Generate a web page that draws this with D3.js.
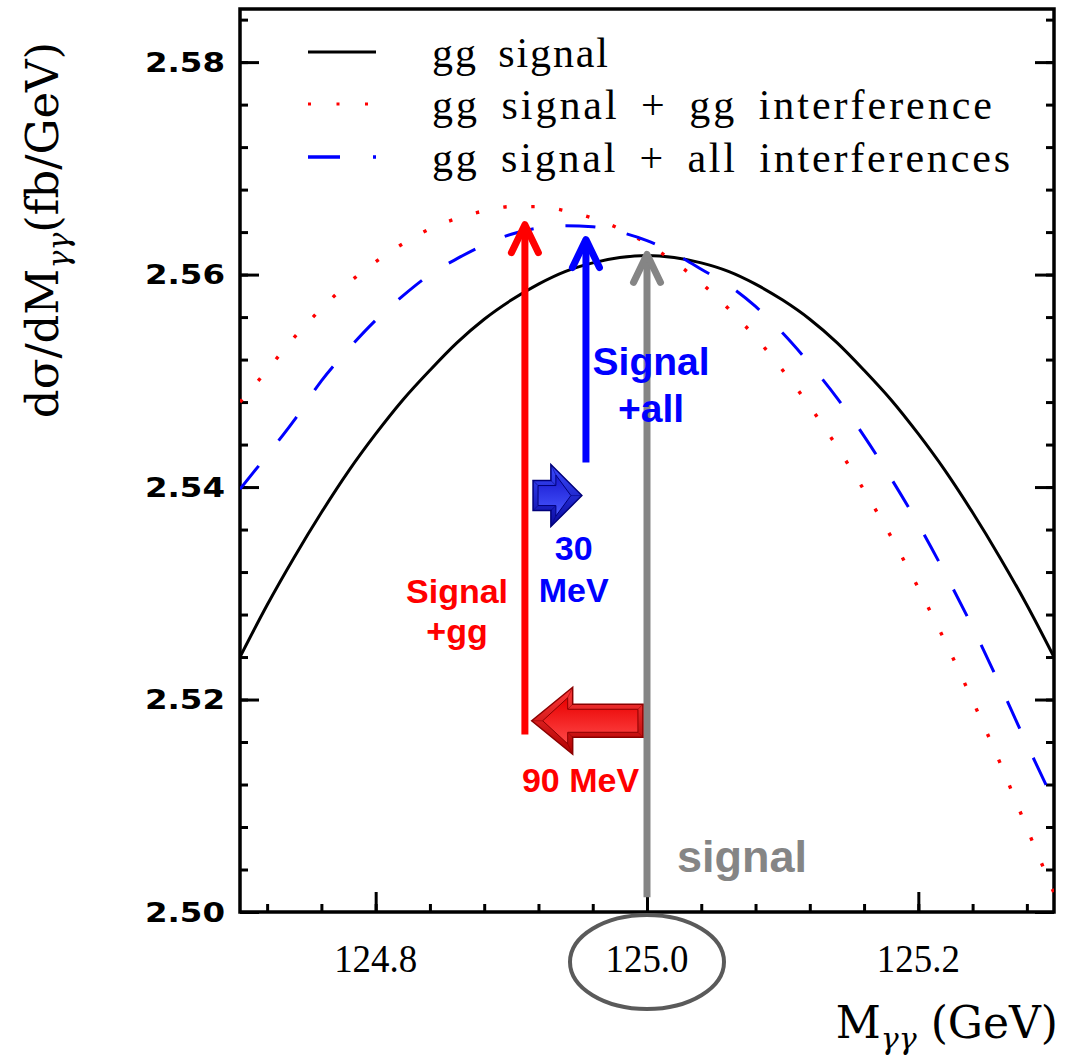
<!DOCTYPE html>
<html><head><meta charset="utf-8">
<script src="https://cdn.jsdelivr.net/npm/d3@7"></script>
<style>body{margin:0;background:#fff} svg{display:block}</style>
</head><body>
<svg id="c" width="1067" height="1055"></svg>
<script>
// ---- data ----
const mass = [124.70,124.72,124.74,124.76,124.78,124.80,124.82,124.84,124.86,124.88,124.90,124.92,124.94,124.96,124.98,125.00,
              125.02,125.04,125.06,125.08,125.10,125.12,125.14,125.16,125.18,125.20,125.22,125.24,125.26,125.28,125.30];
const ggSignal = [2.5240,2.5289,2.5334,2.5376,2.5415,2.5450,2.5482,2.5510,2.5536,2.5558,2.5576,2.5591,2.5603,2.5611,2.5616,2.5618,
                  2.5616,2.5611,2.5603,2.5591,2.5576,2.5558,2.5536,2.5510,2.5482,2.5450,2.5415,2.5376,2.5334,2.5289,2.5240];
const ggSignalGgInt = [2.5480,2.5510,2.5541,2.5568,2.5592,2.5612,2.5629,2.5643,2.5653,2.5660,2.5664,2.5664,2.5660,2.5653,2.5643,2.5629,
                       2.5612,2.5592,2.5568,2.5541,2.5510,2.5476,2.5438,2.5397,2.5353,2.5305,2.5254,2.5199,2.5141,2.5079,2.5018];
const ggSignalAllInt = [2.5398,2.5430,2.5463,2.5500,2.5530,2.5557,2.5580,2.5600,2.5615,2.5628,2.5638,2.5644,2.5646,2.5645,2.5640,2.5632,
                        2.5620,2.5605,2.5590,2.5570,2.5545,2.5516,2.5484,2.5448,2.5408,2.5365,2.5318,2.5268,2.5214,2.5158,2.5104];
const seriesNames = ["gg signal","gg signal + gg interference","gg signal + all interferences"];
const yTicks = [2.50,2.52,2.54,2.56,2.58];
const yTickLabels = ["2.50","2.52","2.54","2.56","2.58"];
const xTicks = [124.8,125.0,125.2];
const xTickLabels = ["124.8","125.0","125.2"];
// peak positions marked by arrows (GeV, value)
const peakSignal = {m:125.000, lo:2.5014, hi:2.5619};
const peakGg     = {m:124.910, lo:2.5167, hi:2.5647};
const peakAll    = {m:124.955, lo:2.5423, hi:2.5633};
const shiftGg  = {from:124.997, to:124.915, v:2.5180};
const shiftAll = {from:124.916, to:124.952, v:2.5392};

// ---- layout ----
const L=240, R=1054, T=9, B=912;
const x = d3.scaleLinear().domain([124.7,125.3]).range([L,R]);
const y = d3.scaleLinear().domain([2.5,2.585]).range([B,T]);
const svg = d3.select('#c');
const defs = svg.append('defs');
defs.append('clipPath').attr('id','clip').append('rect')
  .attr('x',L).attr('y',T).attr('width',R-L).attr('height',B-T);

function grad(id, c1, c2){
  const g = defs.append('linearGradient').attr('id',id).attr('x1',0).attr('y1',0).attr('x2',0).attr('y2',1);
  g.append('stop').attr('offset','0%').attr('stop-color',c1);
  g.append('stop').attr('offset','100%').attr('stop-color',c2);
}
grad('gRedO','#ff3a3a','#b00000');
grad('gRedI','#e80000','#ff4848');
grad('gBlueO','#3a4aff','#0a0aa0');
grad('gBlueI','#1818d0','#4858ff');

// ---- axes ----
const minorY = d3.range(2.5,2.5861,0.004);
const minorX = d3.range(124.72,125.2801,0.04);
function styleAxis(g){ g.select('.domain').remove(); g.selectAll('line').attr('stroke','#000').attr('stroke-width',3); g.selectAll('text').remove(); }
svg.append('g').attr('transform',`translate(${L},0)`).call(d3.axisRight(y).tickValues(minorY).tickSize(8)).call(styleAxis);
svg.append('g').attr('transform',`translate(${L},0)`).call(d3.axisRight(y).tickValues(yTicks).tickSize(19)).call(styleAxis);
svg.append('g').attr('transform',`translate(${R},0)`).call(d3.axisLeft(y).tickValues(minorY).tickSize(8)).call(styleAxis);
svg.append('g').attr('transform',`translate(${R},0)`).call(d3.axisLeft(y).tickValues(yTicks).tickSize(19)).call(styleAxis);
svg.append('g').attr('transform',`translate(0,${B})`).call(d3.axisTop(x).tickValues(minorX).tickSize(8)).call(styleAxis);
svg.append('g').attr('transform',`translate(0,${B})`).call(d3.axisTop(x).tickValues(xTicks).tickSize(20)).call(styleAxis);

svg.append('rect').attr('x',L).attr('y',T).attr('width',R-L).attr('height',B-T)
  .attr('fill','none').attr('stroke','#000').attr('stroke-width',3.5);

// tick labels
svg.append('g').selectAll('text').data(yTicks).join('text')
  .attr('x',225).attr('y',d=>y(d)).attr('dy','0.36em')
  .attr('text-anchor','end').attr('font-family','DejaVu Sans').attr('font-weight','bold')
  .attr('font-size',27).attr('textLength',80).attr('lengthAdjust','spacingAndGlyphs')
  .text((d,i)=>yTickLabels[i]);
svg.append('g').selectAll('text').data(xTicks).join('text')
  .attr('x',d=>x(d)).attr('y',972).attr('text-anchor','middle')
  .attr('font-family','Liberation Serif').attr('font-size',40)
  .attr('textLength',83).attr('lengthAdjust','spacingAndGlyphs')
  .text((d,i)=>xTickLabels[i]);

// axis titles
const yt = svg.append('text').attr('transform','translate(58,230) rotate(-90)')
  .attr('text-anchor','middle').attr('font-family','DejaVu Serif').attr('font-size',45);
yt.append('tspan').text('dσ/dM');
yt.append('tspan').attr('font-size',30).attr('font-style','italic').attr('dy',11).text('γγ');
yt.append('tspan').attr('dy',-11).text('(fb/GeV)');
const xt = svg.append('text').attr('x',1058).attr('y',1038).attr('text-anchor','end')
  .attr('font-family','DejaVu Serif').attr('font-size',44);
xt.append('tspan').text('M');
xt.append('tspan').attr('font-size',30).attr('font-style','italic').attr('dy',11).text('γγ');
xt.append('tspan').attr('dy',-11).attr('dx',14).text('(GeV)');

// ---- curves ----
const line = d3.line().x((d,i)=>x(mass[i])).y(d=>y(d)).curve(d3.curveMonotoneX);
const plot = svg.append('g').attr('clip-path','url(#clip)');
plot.append('path').datum(ggSignal).attr('d',line).attr('fill','none').attr('stroke','#000').attr('stroke-width',3);
plot.append('path').datum(ggSignalGgInt).attr('d',line).attr('fill','none').attr('stroke','#ff0000').attr('stroke-width',3.4).attr('stroke-dasharray','3.4 24.6');
plot.append('path').datum(ggSignalAllInt).attr('d',line).attr('fill','none').attr('stroke','#0000ff').attr('stroke-width',3).attr('stroke-dasharray','30 32');

// ---- legend ----
const legY = [52,104,157];
const legStyles = [
  {c:'#000', dash:null, w:3},
  {c:'#ff0000', dash:'3 25.5', w:3.2},
  {c:'#0000ff', dash:'32 33 3 100', w:3.5}];
const legLen = [176,560,578];
seriesNames.forEach((n,i)=>{
  svg.append('line').attr('x1',308).attr('x2',376).attr('y1',legY[i]).attr('y2',legY[i])
    .attr('stroke',legStyles[i].c).attr('stroke-width',legStyles[i].w)
    .attr('stroke-dasharray',legStyles[i].dash);
  svg.append('text').attr('x',432).attr('y',legY[i]+15).attr('font-family','Liberation Serif')
    .attr('font-size',42).attr('word-spacing',8)
    .attr('textLength',legLen[i]).attr('lengthAdjust','spacing').text(n);
});

// ---- peak arrows ----
function vArrow(p, color){
  const g = svg.append('g').attr('stroke',color).attr('stroke-width',7).attr('fill','none')
    .attr('stroke-linecap','round').attr('stroke-linejoin','round');
  const xs = x(p.m), y0 = y(p.lo), y1 = y(p.hi);
  g.append('line').attr('x1',xs).attr('x2',xs).attr('y1',y0).attr('y2',y1+3).attr('stroke-linecap','butt');
  g.append('polyline').attr('points',`${xs-13.5},${y1+28} ${xs},${y1} ${xs+13.5},${y1+28}`);
}
vArrow(peakSignal,'#858585');
vArrow(peakGg,'#ff0000');
vArrow(peakAll,'#0000ff');

// ---- block arrows ----
function blockArrow(s, headLen, headHalf, bodyHalf, oFill, iFill, edge){
  const tip = x(s.to), tail = x(s.from), cy = y(s.v);
  const dir = Math.sign(tip - tail);
  const pts = (tx, hl, hh, bh, tl)=>[[tx,cy],[tx-dir*hl,cy-hh],[tx-dir*hl,cy-bh],[tl,cy-bh],[tl,cy+bh],[tx-dir*hl,cy+bh],[tx-dir*hl,cy+hh]];
  const outer = pts(tip, headLen, headHalf, bodyHalf, tail);
  const d = 5;
  const inner = pts(tip - dir*d*2.2, headLen - d*3.2, headHalf - d*2.1, bodyHalf - d, tail + dir*d);
  svg.append('polygon').attr('points',outer.map(p=>p.join(',')).join(' '))
    .attr('fill',`url(#${oFill})`).attr('stroke',edge).attr('stroke-width',1.5);
  outer.forEach((p,i)=>svg.append('line').attr('x1',p[0]).attr('y1',p[1]).attr('x2',inner[i][0]).attr('y2',inner[i][1])
    .attr('stroke',edge).attr('stroke-width',1).attr('opacity',0.5));
  svg.append('polygon').attr('points',inner.map(p=>p.join(',')).join(' '))
    .attr('fill',`url(#${iFill})`).attr('stroke',edge).attr('stroke-width',1);
}
blockArrow(shiftGg, 41, 33.5, 16.5, 'gRedO','gRedI','#8a0000');
blockArrow(shiftAll, 31, 31, 15, 'gBlueO','gBlueI','#00007a');

// ---- annotation texts ----
function label(lines, xm, yb, size, color, lh){
  const t = svg.append('text').attr('font-family','Liberation Sans').attr('font-weight','bold')
    .attr('font-size',size).attr('fill',color).attr('text-anchor','middle');
  lines.forEach((s,i)=>t.append('tspan').attr('x',x(xm)).attr('y',yb+i*lh).text(s));
}
label(['Signal','+all'], 125.003, 375, 39, '#0000ff', 47);
label(['Signal','+gg'], 124.860, 603, 34, '#ff0000', 40);
label(['30','MeV'], 124.946, 560, 34, '#0000ff', 42);
label(['90 MeV'], 124.951, 792, 34, '#ff0000', 0);
label(['signal'], 125.070, 872, 45, '#858585', 0);

// ellipse round the 125.0 label
svg.append('ellipse').attr('cx',x(125.0)).attr('cy',962).attr('rx',77).attr('ry',47)
  .attr('fill','none').attr('stroke','#5a5a5a').attr('stroke-width',4);
</script>
</body></html>
